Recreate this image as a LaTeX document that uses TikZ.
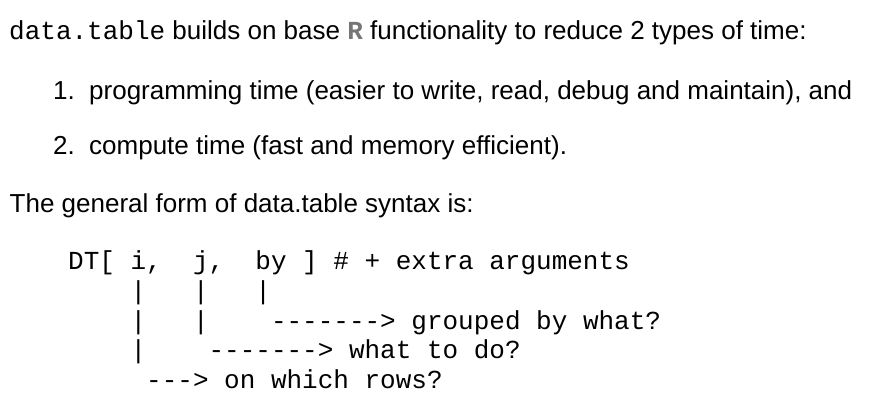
\documentclass[tikz,border=0pt]{standalone}
\usepackage{fontspec}
\setmainfont{Liberation Sans}
\setsansfont{Liberation Sans}
\setmonofont{Liberation Mono}
\usepackage{xcolor}
\usepackage{tikz}
\usetikzlibrary{positioning}
\definecolor{rgray}{RGB}{118,118,118}
\frenchspacing

\begin{document}
\begin{tikzpicture}[x=1pt, y=1pt,
  txt/.style={anchor=base west, inner sep=0pt, font=\fontsize{26}{30}\selectfont},
  code/.style={anchor=base west, inner sep=0pt, font=\fontsize{26}{30}\selectfont\ttfamily}]
\useasboundingbox (0,0) rectangle (884,-414);
\node[txt] (intro) at (9,-40) {\texttt{data.table} builds on base
  \textcolor{rgray}{\texttt{\bfseries R}} functionality to reduce 2 types of time:};
\node[txt] (num1) at (53,-100) {1.};
\node[txt] (item1) at (89,-100) {programming time (easier to write, read, debug and maintain), and};
\node[txt] (num2) at (53,-155) {2.};
\node[txt] (item2) at (89,-155) {compute time (fast and memory efficient).};
\node[txt] (form) at (9.5,-213) {The general form of data.table syntax is:};
\node[code] (code1) at (68,-270) {DT[~i,~~j,~~by~]~\#~+~extra~arguments};
\node[code] (code2) at (68,-299.5) {~~~~|~~~|~~~|};
\node[code] (code3) at (68,-329) {~~~~|~~~|~~~~------->~grouped~by~what?};
\node[code] (code4) at (68,-358.5) {~~~~|~~~~------->~what~to~do?};
\node[code] (code5) at (68,-388) {~~~~~--->~on~which~rows?};
\end{tikzpicture}
\end{document}
